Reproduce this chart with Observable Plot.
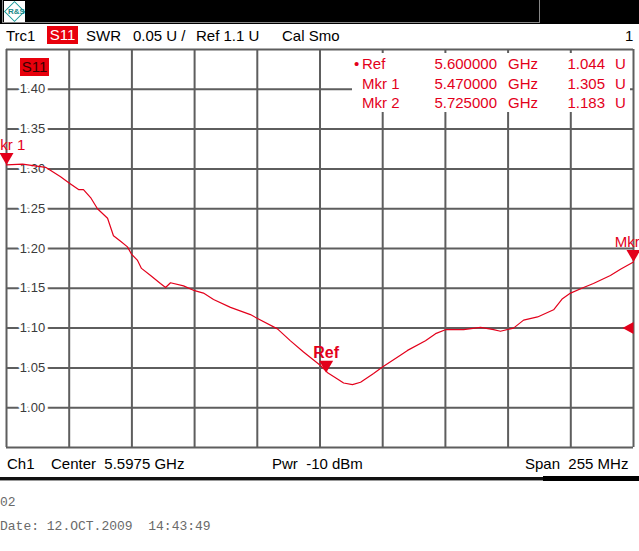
<!DOCTYPE html>
<html>
<head>
<meta charset="utf-8">
<script src="https://cdn.jsdelivr.net/npm/d3@7"></script>
<script src="https://cdn.jsdelivr.net/npm/@observablehq/plot@0.6"></script>
<style>
  html, body { margin: 0; padding: 0; background: #fff; }
  #page { position: relative; width: 639px; height: 551px; overflow: hidden; font-family: "Liberation Sans", Arial, sans-serif; }
  .abs { position: absolute; white-space: pre; line-height: 1; }
  #topbar { position: absolute; left: 0; top: 0; width: 639px; height: 24px; background: #000; }
  #topbox { position: absolute; left: 2px; top: 0; width: 538px; height: 23px; border: 1px solid #888; border-top: none; box-sizing: border-box; }
  #logo { position: absolute; left: 4px; top: 1px; width: 21px; height: 21px; background: #fff; }
  #logo .d { position: absolute; left: 3px; top: 3px; width: 15px; height: 15px; border: 1.5px solid #1a9a9a; transform: rotate(45deg); box-sizing: border-box; }
  #logo .t { position: absolute; left: 4px; top: 6px; font-size: 8px; color: #1a8a8a; font-weight: bold; }
  #hdr { position: absolute; left: 0; top: 24px; width: 639px; height: 24px; font-size: 15px; color: #000; }
  #tbl { position: absolute; left: 352px; top: 53px; width: 278px; height: 59px; background: #fff; font-size: 15px; }
  #plot { position: absolute; left: 0; top: 40px; }
</style>
</head>
<body>
<div id="page">
  <div id="topbar"><div id="topbox"></div><div id="logo"><div class="d"></div><div class="t">R&amp;S</div></div></div>
  <div id="plot"></div>
  <div id="hdr"></div>
  <div id="tbl"></div>
  <div id="footer"></div>
</div>
<script>
// ---- data ----
const freqGHz = [5.4700, 5.4765, 5.4859, 5.4920, 5.4956, 5.4993, 5.5013, 5.5042, 5.5070, 5.5111,
  5.5135, 5.5164, 5.5192, 5.5208, 5.5233, 5.5249, 5.5286, 5.5326, 5.5347, 5.5367,
  5.5420, 5.5465, 5.5501, 5.5542, 5.5611, 5.5692, 5.5721, 5.5802, 5.5855, 5.5908,
  5.5977, 5.6006, 5.6046, 5.6071, 5.6107, 5.6140, 5.6193, 5.6229, 5.6302, 5.6331,
  5.6404, 5.6445, 5.6485, 5.6559, 5.6628, 5.6681, 5.6709, 5.6762, 5.6803, 5.6860,
  5.6925, 5.6961, 5.6994, 5.7047, 5.7087, 5.7156, 5.7197, 5.7250];
const swr = [1.305, 1.306, 1.302, 1.290, 1.282, 1.274, 1.274, 1.264, 1.250, 1.238,
  1.216, 1.209, 1.202, 1.193, 1.185, 1.175, 1.166, 1.156, 1.151, 1.157,
  1.153, 1.147, 1.144, 1.136, 1.126, 1.117, 1.112, 1.099, 1.084, 1.070,
  1.053, 1.044, 1.036, 1.031, 1.029, 1.032, 1.043, 1.051, 1.066, 1.072,
  1.084, 1.093, 1.098, 1.098, 1.101, 1.098, 1.096, 1.100, 1.110, 1.114,
  1.123, 1.137, 1.144, 1.151, 1.156, 1.166, 1.174, 1.183];

const markerNames = ["Ref", "Mkr 1", "Mkr 2"];
const markerFreqs = [5.600000, 5.470000, 5.725000];
const markerValues = [1.044, 1.305, 1.183];
const refLevel = 1.1;

const yTicks = [0.95, 1.00, 1.05, 1.10, 1.15, 1.20, 1.25, 1.30, 1.35, 1.40, 1.45];
const yLabelTicks = ["1.00", "1.05", "1.10", "1.15", "1.20", "1.25", "1.30", "1.35", "1.40"];
const xStart = 5.47, xStop = 5.725;
const xDivisions = 10;

const headerItems = [["Trc1", 6], ["S11", 47], ["SWR", 86], ["0.05 U /", 133], ["Ref 1.1 U", 196], ["Cal Smo", 282], ["1", 625]];
const footerItems = [["Ch1", 7], ["Center  5.5975 GHz", 51], ["Pwr  -10 dBm", 272], ["Span  255 MHz", 525]];

// ---- derived ----
const red = "#e3001b";
const grid = "#5e5e5e";
const trace = freqGHz.map((f, i) => ({f, v: swr[i]}));
const xTicks = d3.range(xDivisions + 1).map(i => xStart + (xStop - xStart) * i / xDivisions);
const markers = markerNames.map((n, i) => ({name: n, f: markerFreqs[i], v: markerValues[i]}));
const activeMarkers = markers.filter(m => m.name === "Ref");
const otherMarkers = markers.filter(m => m.name !== "Ref");

const downTri = { draw(ctx) { ctx.moveTo(-7, -12); ctx.lineTo(7, -12); ctx.lineTo(0, 0); ctx.closePath(); } };
const leftTri = { draw(ctx) { ctx.moveTo(0, -6); ctx.lineTo(0, 6); ctx.lineTo(-11, 0); ctx.closePath(); } };
const font = "Liberation Sans, Arial, sans-serif";

const chart = Plot.plot({
  width: 639,
  height: 411,
  marginLeft: 6,
  marginRight: 6,
  marginTop: 9,
  marginBottom: 4,
  x: {domain: [xStart, xStop], axis: null},
  y: {domain: [0.95, 1.45], axis: null},
  style: {background: "transparent", overflow: "visible"},
  marks: [
    Plot.ruleY(yTicks, {stroke: grid, strokeWidth: 2}),
    Plot.ruleX(xTicks, {stroke: grid, strokeWidth: 2}),
    Plot.text(yLabelTicks, {y: d => +d, text: d => d, frameAnchor: "left", dx: 26, textAnchor: "middle",
      fontSize: 13, fill: "#3a3a3a", stroke: "white", strokeWidth: 6, fontFamily: font}),
    Plot.line(trace, {x: "f", y: "v", stroke: red, strokeWidth: 1.2}),
    Plot.dot(markers, {x: "f", y: "v", symbol: downTri, fill: red, stroke: "none", r: 5}),
    Plot.text(otherMarkers, {x: "f", y: "v", text: "name", dy: -15, lineAnchor: "bottom", textAnchor: "middle",
      fill: red, fontSize: 15, fontFamily: font}),
    Plot.text(activeMarkers, {x: "f", y: "v", text: "name", dy: -15, lineAnchor: "bottom", textAnchor: "middle",
      fill: red, fontSize: 16, fontWeight: "bold", fontFamily: font}),
    Plot.dot([refLevel], {x: () => xStop, y: d => d, symbol: leftTri, fill: red, stroke: "none", r: 5})
  ]
});
document.getElementById("plot").appendChild(chart);

// S11 tag inside plot area
const page = document.getElementById("page");
const tag = document.createElement("div");
tag.className = "abs";
Object.assign(tag.style, {left: "20px", top: "58px", width: "29px", height: "18px", background: "#e8000c", color: "#3a0000", fontSize: "15px", lineHeight: "18px", textAlign: "center"});
tag.textContent = "S11";
page.appendChild(tag);

// header
const hdr = document.getElementById("hdr");
headerItems.forEach(([t, x]) => {
  const s = document.createElement("div");
  s.className = "abs";
  s.textContent = t;
  s.style.left = x + "px";
  s.style.top = "4px";
  if (t === "S11") {
    Object.assign(s.style, {background: "#e8000c", color: "#fff", width: "31px", height: "18px", lineHeight: "18px", top: "2px", textAlign: "center"});
  } else {
    s.style.lineHeight = "15px";
  }
  hdr.appendChild(s);
});

// marker table
const tbl = document.getElementById("tbl");
markers.forEach((m, i) => {
  const top = 2 + i * 19.5;
  const add = (text, left, align, w) => {
    const d = document.createElement("div");
    d.className = "abs";
    d.textContent = text;
    Object.assign(d.style, {top: top + "px", color: red, lineHeight: "17px"});
    if (align === "right") { d.style.left = (left - w) + "px"; d.style.width = w + "px"; d.style.textAlign = "right"; }
    else d.style.left = left + "px";
    tbl.appendChild(d);
  };
  if (i === 0) add("•", 2, "left");
  add(m.name, 10, "left");
  add(m.f.toFixed(6), 145, "right", 80);
  add("GHz", 156, "left");
  add(m.v.toFixed(3), 253, "right", 60);
  add("U", 263, "left");
});

// footer
footerItems.forEach(([t, x]) => {
  const d = document.createElement("div");
  d.className = "abs";
  d.textContent = t;
  Object.assign(d.style, {left: x + "px", top: "456px", fontSize: "15px", lineHeight: "15px"});
  page.appendChild(d);
});
const line1 = document.createElement("div");
Object.assign(line1.style, {position: "absolute", left: "0px", top: "477px", width: "543px", height: "3px", background: "#111", borderBottom: "1px solid #999"});
page.appendChild(line1);
const line2 = document.createElement("div");
Object.assign(line2.style, {position: "absolute", left: "543px", top: "476px", width: "96px", height: "5px", background: "#000"});
page.appendChild(line2);
[["02", 496], ["Date: 12.OCT.2009  14:43:49", 520]].forEach(([t, y]) => {
  const d = document.createElement("div");
  d.className = "abs";
  d.textContent = t;
  Object.assign(d.style, {left: "0px", top: y + "px", fontFamily: "'Liberation Mono', 'DejaVu Sans Mono', monospace", fontSize: "13px", lineHeight: "13px", color: "#6a6a6a"});
  page.appendChild(d);
});
</script>
</body>
</html>
